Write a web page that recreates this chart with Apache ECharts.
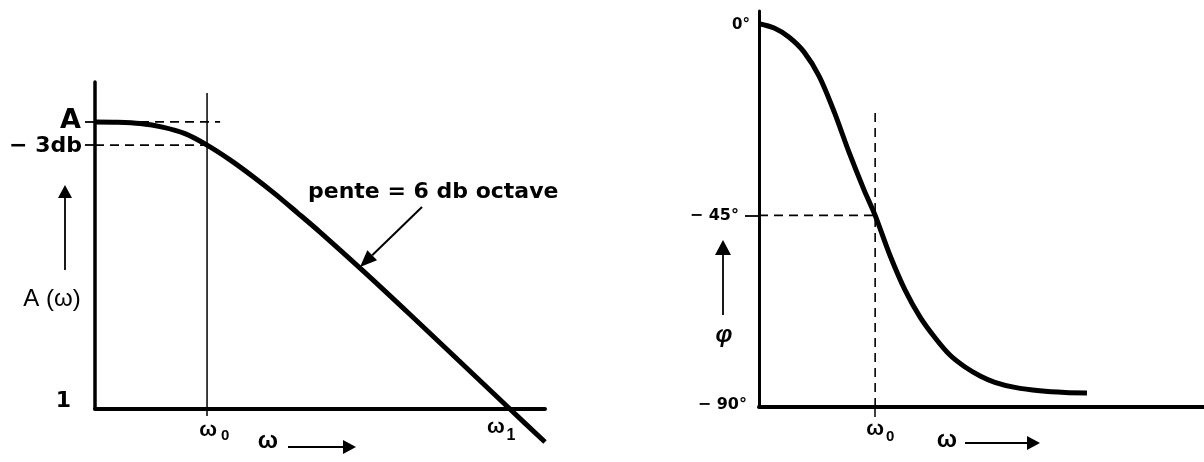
<!DOCTYPE html>
<html>
<head>
<meta charset="utf-8">
<script src="https://cdn.jsdelivr.net/npm/echarts@6/dist/echarts.min.js"></script>
<style>
  html, body { margin: 0; padding: 0; background: #fff; }
  #chart { width: 1204px; height: 462px; }
</style>
</head>
<body>
<div id="chart"></div>
<script>
// Low-pass amplitude response A(ω) (arbitrary units, 0 = level "1")
const ampOmega = [0, 0.5, 1.0, 1.5, 2.0, 2.49, 3.0, 3.5, 4.0, 4.5, 5.0, 6.0, 7.0, 8.0, 9.22, 10.0];
const ampValue = [8.78, 8.77, 8.73, 8.62, 8.42, 8.07, 7.62, 7.12, 6.58, 6.00, 5.41, 4.17, 2.89, 1.59, 0, -1.01];

// Phase response φ(ω) in degrees
const phaseOmega = [0, 0.34, 0.67, 1.01, 1.35, 1.69, 2.02, 2.36, 2.61, 2.94, 3.28, 3.62, 3.96, 4.29, 4.63, 4.97, 5.30, 5.75, 6.31, 6.88, 7.37];
const phaseDeg = [0, -1.0, -3.1, -6.6, -12.3, -20.7, -30.1, -39.0, -45, -54.3, -62.5, -68.9, -73.8, -77.8, -80.6, -82.7, -84.2, -85.4, -86.2, -86.6, -86.7];

// Marked levels / frequencies
const ampLevelValues = [8.78, 8.07, 0];
const ampLevelLabels = ['A', '− 3db', '1'];
const omega0Amp = 2.49;
const omega1Amp = 9.22;
const omega0Phase = 2.61;
const phaseTickValues = [0, -45, -90];
const phaseTickLabels = ['0°', '− 45°', '− 90°'];

const FONT = "'Liberation Sans', Arial, sans-serif";
const WIDE = "'DejaVu Sans', 'Liberation Sans', sans-serif";
const INK = '#000';

const zip = (xs, ys) => xs.map((x, i) => [x, ys[i]]);

const option = {
  animation: false,
  backgroundColor: '#fff',
  grid: [
    { left: 95, top: 82, width: 450, height: 327 },
    { left: 759, top: 11, width: 445, height: 396 }
  ],
  xAxis: [
    {
      gridIndex: 0, type: 'value', min: 0, max: 10,
      axisLine: { show: true, onZero: false, lineStyle: { color: INK, width: 4 } },
      axisTick: { show: true, customValues: [omega0Amp], length: 7, lineStyle: { color: INK, width: 1.5 } },
      axisLabel: { show: false }, splitLine: { show: false }
    },
    {
      gridIndex: 1, type: 'value', min: 0, max: 10,
      axisLine: { show: true, onZero: false, lineStyle: { color: INK, width: 4 } },
      axisTick: { show: true, customValues: [omega0Phase], length: 10, lineStyle: { color: INK, width: 1.5 } },
      axisLabel: { show: false }, splitLine: { show: false }
    }
  ],
  yAxis: [
    {
      gridIndex: 0, type: 'value', min: 0, max: 10,
      axisLine: { show: true, onZero: false, lineStyle: { color: INK, width: 3.5 } },
      axisTick: { show: true, customValues: ampLevelValues.slice(0, 2), length: 10, lineStyle: { color: INK, width: 1.8 } },
      axisLabel: { show: false }, splitLine: { show: false }
    },
    {
      gridIndex: 1, type: 'value', min: -90, max: 3,
      axisLine: { show: true, onZero: false, lineStyle: { color: INK, width: 3 } },
      axisTick: { show: true, customValues: [-45], length: 14, lineStyle: { color: INK, width: 1.8 } },
      axisLabel: { show: false }, splitLine: { show: false }
    }
  ],
  series: [
    // guide lines of the amplitude plot
    {
      type: 'line', xAxisIndex: 0, yAxisIndex: 0, symbol: 'none', silent: true,
      data: [[omega0Amp, 0], [omega0Amp, 9.66]],
      lineStyle: { color: INK, width: 1.5 }
    },
    {
      type: 'line', xAxisIndex: 0, yAxisIndex: 0, symbol: 'none', silent: true,
      data: [[0, ampLevelValues[0]], [2.78, ampLevelValues[0]]],
      lineStyle: { color: INK, width: 1.6, type: [9, 6] }
    },
    {
      type: 'line', xAxisIndex: 0, yAxisIndex: 0, symbol: 'none', silent: true,
      data: [[0, ampLevelValues[1]], [omega0Amp, ampLevelValues[1]]],
      lineStyle: { color: INK, width: 1.6, type: [9, 6] }
    },
    // amplitude curve
    {
      type: 'line', xAxisIndex: 0, yAxisIndex: 0, symbol: 'none', silent: true,
      smooth: 0.3, clip: false,
      data: zip(ampOmega, ampValue),
      lineStyle: { color: INK, width: 5 }
    },
    // guide lines of the phase plot
    {
      type: 'line', xAxisIndex: 1, yAxisIndex: 1, symbol: 'none', silent: true,
      data: [[omega0Phase, -90], [omega0Phase, -19.8]],
      lineStyle: { color: INK, width: 1.6, type: [9, 6] }
    },
    {
      type: 'line', xAxisIndex: 1, yAxisIndex: 1, symbol: 'none', silent: true,
      data: [[0, -45], [omega0Phase, -45]],
      lineStyle: { color: INK, width: 1.6, type: [9, 6] }
    },
    // phase curve
    {
      type: 'line', xAxisIndex: 1, yAxisIndex: 1, symbol: 'none', silent: true,
      smooth: 0.3, clip: false,
      data: zip(phaseOmega, phaseDeg),
      lineStyle: { color: INK, width: 5 }
    }
  ]
};

const chart = echarts.init(document.getElementById('chart'), null, { renderer: 'canvas' });
chart.setOption(option);

const pA = (x, y) => chart.convertToPixel({ gridIndex: 0 }, [x, y]);
const pP = (x, y) => chart.convertToPixel({ gridIndex: 1 }, [x, y]);

function text(x, y, str, font, align, extra) {
  return {
    type: 'text', x, y, silent: true,
    style: Object.assign({ text: str, font, fill: INK, align: align || 'center', verticalAlign: 'middle' }, extra || {})
  };
}

function arrow(x1, y1, x2, y2, width, headLen, headHalf) {
  const a = Math.atan2(y2 - y1, x2 - x1);
  const bx = x2 - headLen * Math.cos(a), by = y2 - headLen * Math.sin(a);
  const nx = -Math.sin(a) * headHalf, ny = Math.cos(a) * headHalf;
  return [
    { type: 'line', silent: true, shape: { x1, y1, x2: bx, y2: by }, style: { stroke: INK, lineWidth: width } },
    { type: 'polygon', silent: true, shape: { points: [[x2, y2], [bx + nx, by + ny], [bx - nx, by - ny]] }, style: { fill: INK } }
  ];
}

const g = [];

// amplitude plot labels
const [, yA] = pA(0, ampLevelValues[0]);
const [, y3] = pA(0, ampLevelValues[1]);
const [, y1] = pA(0, ampLevelValues[2]);
const [xw0, yBase] = pA(omega0Amp, 0);
const [xw1] = pA(omega1Amp, 0);
g.push(text(81, yA - 1, ampLevelLabels[0], `bold 27px ${WIDE}`, 'right'));
g.push(text(82, y3 + 1, ampLevelLabels[1], `bold 22px ${WIDE}`, 'right'));
g.push(text(71, y1 - 8, ampLevelLabels[2], `bold 22px ${WIDE}`, 'right'));
g.push(...arrow(65, 270, 65, 185, 1.8, 13, 7));
g.push(text(52, 299, 'A (ω)', `24px ${FONT}`, 'center'));
g.push(text(xw0 + 1, yBase + 21, 'ω', `bold 21px ${FONT}`, 'center'));
g.push(text(xw0 + 18, yBase + 27, '0', `bold 15px ${FONT}`, 'center'));
g.push(text(xw1 - 14, yBase + 18, 'ω', `bold 21px ${FONT}`, 'center'));
g.push(text(xw1 + 1, yBase + 27, '1', `bold 16px ${FONT}`, 'center'));
g.push(text(268, yBase + 32, 'ω', `bold 24px ${FONT}`, 'center'));
g.push(...arrow(288, yBase + 38, 356, yBase + 38, 2, 13, 7));
g.push(text(308, 192, 'pente = 6 db octave', `bold 22px ${WIDE}`, 'left'));
g.push(...arrow(422, 207, 360, 267, 2, 17, 7));

// phase plot labels
const [, yp0] = pP(0, phaseTickValues[0]);
const [, yp45] = pP(0, phaseTickValues[1]);
const [, yp90] = pP(0, phaseTickValues[2]);
const [xpw0, ypBase] = pP(omega0Phase, -90);
g.push(text(750, yp0 + 1, phaseTickLabels[0], `bold 15px ${WIDE}`, 'right'));
g.push(text(739, yp45, phaseTickLabels[1], `bold 16px ${WIDE}`, 'right'));
g.push(text(747, yp90 - 2, phaseTickLabels[2], `bold 16px ${WIDE}`, 'right'));
g.push(...arrow(723, 315, 723, 240, 1.8, 15, 8));
g.push(text(724, 335, 'φ', `italic bold 24px ${FONT}`, 'center'));
g.push(text(xpw0 + 0, ypBase + 22, 'ω', `bold 21px ${FONT}`, 'center'));
g.push(text(xpw0 + 15, ypBase + 30, '0', `bold 15px ${FONT}`, 'center'));
g.push(text(947, ypBase + 33, 'ω', `bold 24px ${FONT}`, 'center'));
g.push(...arrow(965, ypBase + 36, 1040, ypBase + 36, 2, 13, 7));

chart.setOption({ graphic: g });
</script>
</body>
</html>
